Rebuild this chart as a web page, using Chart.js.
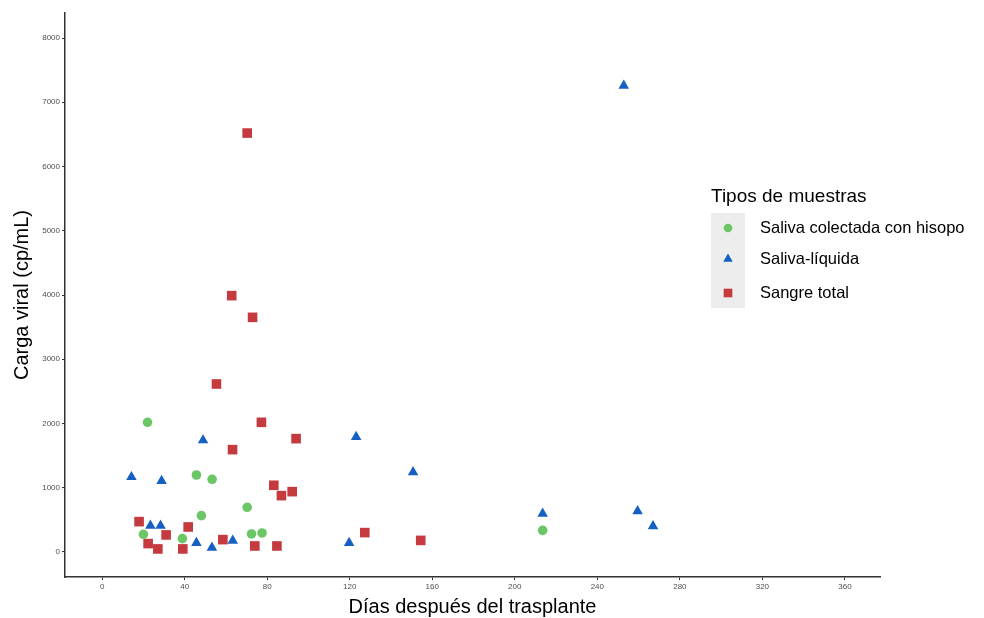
<!DOCTYPE html>
<html>
<head>
<meta charset="utf-8">
<script src="https://cdn.jsdelivr.net/npm/chart.js@4.4.1/dist/chart.umd.min.js"></script>
<style>
  html, body { margin: 0; padding: 0; background: #fff; }
  #wrap { width: 984px; height: 618px; }
</style>
</head>
<body>
<div id="wrap"><canvas id="viralChart" width="984" height="618"></canvas></div>
<script>
// Saliva colectada con hisopo
const hisopoDias  = [22.0, 45.7, 53.3, 70.3, 48.1, 20.0, 38.9, 72.4, 77.5, 213.5];
const hisopoCarga = [2018, 1198, 1131, 695, 565, 275, 208, 280, 296, 336];

// Saliva-líquida
const liquidaDias  = [48.9, 123.1, 14.2, 28.8, 23.4, 28.3, 45.7, 53.2, 63.3, 119.7, 252.8, 150.7, 213.5, 259.5, 267.0];
const liquidaCarga = [1738, 1790, 1167, 1105, 410, 410, 140, 67, 176, 140, 7258, 1242, 596, 635, 402];

// Sangre total
const sangreDias  = [70.3, 62.8, 72.9, 55.4, 77.2, 94.0, 63.2, 83.2, 86.9, 92.1, 17.9, 41.7, 31.0, 22.3, 27.0, 39.1, 58.5, 74.0, 84.7, 127.3, 154.4];
const sangreCarga = [6521, 3990, 3652, 2615, 2018, 1764, 1593, 1038, 877, 939, 472, 389, 265, 130, 47, 47, 192, 93, 93, 301, 180];

const xTicks = [0, 40, 80, 120, 160, 200, 240, 280, 320, 360];
const yTicks = [0, 1000, 2000, 3000, 4000, 5000, 6000, 7000, 8000];

const toPoints = (xs, ys) => xs.map((x, i) => ({ x: x, y: ys[i] }));

const series = [
  { label: 'Saliva colectada con hisopo', color: '#6bc665', style: 'circle', radius: 4.8, data: toPoints(hisopoDias, hisopoCarga) },
  { label: 'Saliva-líquida', color: '#1660c2', style: 'triangle', radius: 6.1, data: toPoints(liquidaDias, liquidaCarga) },
  { label: 'Sangre total', color: '#c43a3f', style: 'rect', radius: 6.8, data: toPoints(sangreDias, sangreCarga) }
];

const FONT = 'Liberation Sans, Arial, Helvetica, sans-serif';
const AXIS = '#333333';

// axis titles and the legend block on the right
const extras = {
  id: 'extras',
  afterDraw(chart) {
    const ctx = chart.ctx;
    const area = chart.chartArea;
    ctx.save();
    ctx.fillStyle = '#000';
    ctx.font = '20px ' + FONT;
    ctx.textAlign = 'center';
    ctx.textBaseline = 'middle';
    ctx.fillText('Días después del trasplante', (area.left + area.right) / 2, 607);

    ctx.save();
    ctx.translate(22, (area.top + area.bottom) / 2);
    ctx.rotate(-Math.PI / 2);
    ctx.fillText('Carga viral (cp/mL)', 0, 0);
    ctx.restore();

    // legend
    ctx.textAlign = 'left';
    ctx.font = '19px ' + FONT;
    ctx.fillText('Tipos de muestras', 711, 197);
    ctx.fillStyle = '#ededed';
    ctx.fillRect(711, 213, 34, 95);
    ctx.font = '16.5px ' + FONT;
    const rows = [228, 259, 293];
    series.forEach((s, i) => {
      ctx.fillStyle = s.color;
      ctx.strokeStyle = s.color;
      Chart.helpers.drawPoint(ctx, { pointStyle: s.style, radius: s.radius * 0.9, borderWidth: 0 }, 728, rows[i]);
      ctx.fillStyle = '#000';
      ctx.fillText(s.label, 760, rows[i]);
    });
    ctx.restore();
  }
};

const plainTick = v => String(v);

new Chart(document.getElementById('viralChart').getContext('2d'), {
  type: 'scatter',
  data: {
    datasets: series.map(s => ({
      label: s.label,
      data: s.data,
      pointStyle: s.style,
      pointRadius: s.radius,
      pointHoverRadius: s.radius,
      backgroundColor: s.color,
      borderColor: s.color,
      borderWidth: 0
    }))
  },
  options: {
    responsive: false,
    animation: false,
    layout: { padding: { top: 13, right: 104, left: 0, bottom: 0 } },
    plugins: {
      legend: { display: false },
      tooltip: { enabled: false }
    },
    scales: {
      x: {
        type: 'linear',
        min: -18,
        max: 377,
        afterFit: scale => { scale.height = 41; },
        afterBuildTicks: scale => { scale.ticks = xTicks.map(v => ({ value: v })); },
        border: { display: true, color: AXIS, width: 1.5 },
        grid: { drawOnChartArea: false, drawTicks: true, tickLength: 3, tickColor: AXIS, tickWidth: 1 },
        ticks: { autoSkip: false, maxRotation: 0, padding: 2, color: '#4d4d4d', callback: plainTick, font: { family: FONT, size: 8 } }
      },
      y: {
        type: 'linear',
        min: -390,
        max: 8390,
        afterFit: scale => { scale.width = 65; },
        afterBuildTicks: scale => { scale.ticks = yTicks.map(v => ({ value: v })); },
        border: { display: true, color: AXIS, width: 1.5 },
        grid: { drawOnChartArea: false, drawTicks: true, tickLength: 3, tickColor: AXIS, tickWidth: 1 },
        ticks: { autoSkip: false, padding: 2, color: '#4d4d4d', callback: plainTick, font: { family: FONT, size: 8 } }
      }
    }
  },
  plugins: [extras]
});
</script>
</body>
</html>
